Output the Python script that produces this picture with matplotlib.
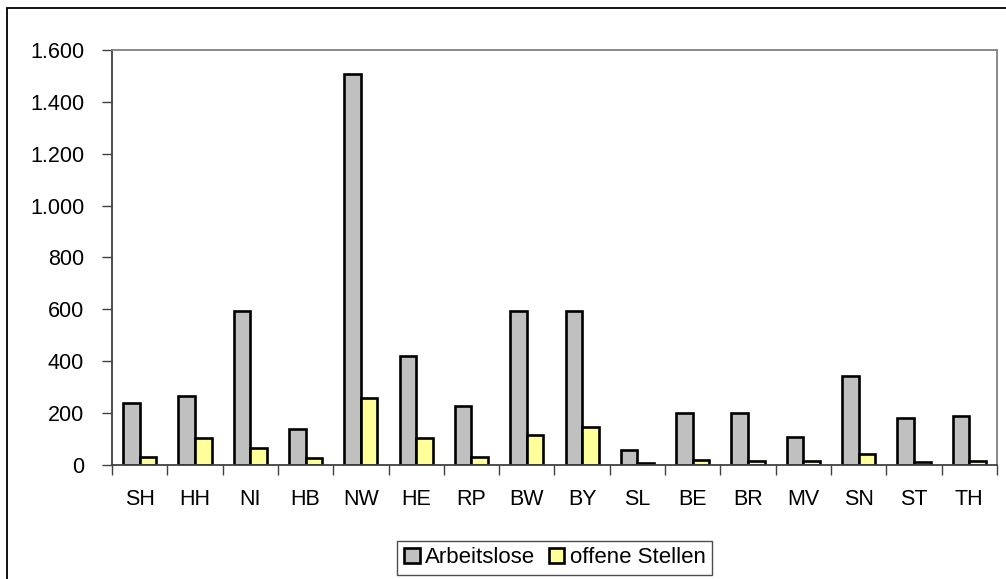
import numpy as np
import matplotlib.pyplot as plt
from matplotlib.patches import Rectangle
from matplotlib.ticker import FuncFormatter

plt.rcParams['font.family'] = ['Liberation Sans', 'DejaVu Sans']

laender = ['SH', 'HH', 'NI', 'HB', 'NW', 'HE', 'RP', 'BW', 'BY',
           'SL', 'BE', 'BR', 'MV', 'SN', 'ST', 'TH']
arbeitslose = [238, 265, 595, 139, 1508, 419, 227, 594, 594,
               58, 202, 199, 109, 343, 182, 188]
offene_stellen = [30, 103, 67, 26, 260, 105, 30, 117, 148,
                  6, 18, 15, 14, 41, 11, 14]

fig = plt.figure(figsize=(10.06, 5.79), dpi=100)
ax = fig.add_axes([0.1113, 0.197, 0.8797, 0.7166])

x = np.arange(len(laender))
w = 0.3
ax.bar(x - w / 2, arbeitslose, w, color='#c0c0c0', edgecolor='black',
       linewidth=1.9, label='Arbeitslose')
ax.bar(x + w / 2, offene_stellen, w, color='#ffff99', edgecolor='black',
       linewidth=1.9, label='offene Stellen')

ax.set_xlim(-0.5, len(laender) - 0.5)
ax.set_ylim(0, 1600)
ax.set_yticks(range(0, 1601, 200))
ax.yaxis.set_major_formatter(FuncFormatter(lambda v, p: f'{int(v):,}'.replace(',', '.')))

# categories sit between the tick marks
ax.set_xticks(np.arange(-0.5, len(laender), 1))
ax.set_xticklabels([])
ax.set_xticks(x, minor=True)
ax.set_xticklabels(laender, minor=True)
ax.tick_params(axis='x', which='minor', length=0, pad=17, labelsize=15.5)
ax.tick_params(axis='x', which='major', length=7, width=1, color='#404040')
ax.tick_params(axis='y', length=7, width=1, color='#404040', pad=13, labelsize=15.5)

for s in ax.spines.values():
    s.set_color('#808080')
    s.set_linewidth(1.3)
ax.spines['left'].set_color('#404040')
ax.spines['bottom'].set_color('#404040')

leg = ax.legend(loc='lower center', bbox_to_anchor=(0.5515, 0.0068), bbox_transform=fig.transFigure,
                ncol=2, fontsize=16, frameon=True, fancybox=False,
                handlelength=0.7, handleheight=0.7, handletextpad=0.25,
                columnspacing=0.6, borderpad=0.3, borderaxespad=0)
leg.get_frame().set_edgecolor('#202020')
leg.get_frame().set_linewidth(1.0)

# outer chart frame
fig.patches.append(Rectangle((7 / 1006, -0.05), 1.1, 1 - 8 / 579 + 0.05,
                             transform=fig.transFigure, fill=False,
                             edgecolor='black', linewidth=1.3))

fig.savefig('out.png', dpi=100)
